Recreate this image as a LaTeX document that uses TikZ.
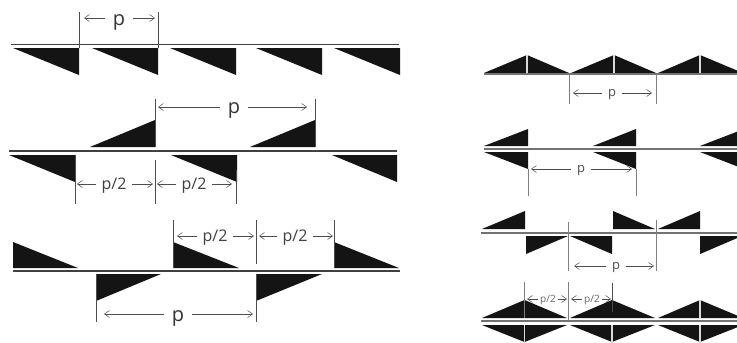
\documentclass[tikz,border=0pt]{standalone}
\usepackage{fontspec}
\setmainfont{Open Sans}
\usetikzlibrary{arrows.meta}
\begin{document}
\begin{tikzpicture}[
    x=1pt, y=-1pt,
    tooth/.style={fill=black!92},
    bar/.style={draw=black!75, line width=1.9pt},
    barlight/.style={draw=black!55, line width=1.9pt},
    slit/.style={draw=black!15, line width=1.3pt},
    tick/.style={draw=black!70, line width=0.7pt},
    ticklight/.style={draw=black!50, line width=0.9pt},
    dimarrow/.style={draw=black!70, line width=0.5pt, -{Straight Barb[length=5pt,width=7pt]}},
    biglabel/.style={font=\fontsize{20}{20}\selectfont, text=black!80, inner sep=8pt},
    midlabel/.style={font=\fontsize{16}{16}\selectfont, text=black!75, inner sep=5pt},
    rightlabel/.style={font=\fontsize{13}{13}\selectfont, text=black!70, inner sep=6pt},
    tinylabel/.style={font=\fontsize{10}{10}\selectfont, text=black!60, inner sep=2pt},
]
\clip (0,0) rectangle (737,343);
\fill[white] (0,0) rectangle (737,343);

% left column
\foreach \a/\b in {13/79,92/158,170/236,256/322,334/400}
    \fill[tooth] (\a,48) -- (\b,48) -- (\b,75) -- cycle;
\draw[bar] (11,44.5) -- (399,44.5);
\foreach \a in {79,158}
    \draw[tick] (\a,12) -- (\a,48);

\foreach \a/\b in {90/155,250/315}
    \fill[tooth] (\a,147) -- (\b,147) -- (\b,120) -- cycle;
\foreach \a/\b in {9/75,171/237,332/397}
    \fill[tooth] (\a,155) -- (\b,155) -- (\b,182) -- cycle;
\draw[bar] (9,151) -- (397,151);
\foreach \a in {155,315}
    \draw[tick] (\a,99) -- (\a,147);
\draw[tick] (75,155) -- (75,204);
\draw[tick] (155,160) -- (155,204);
\draw[tick] (236,170) -- (236,204);

\foreach \a/\b in {13/78,173/239,334/399}
    \fill[tooth] (\a,242) -- (\a,268) -- (\b,268) -- cycle;
\foreach \a/\b in {96/161,256/322}
    \fill[tooth] (\a,274) -- (\b,274) -- (\a,301) -- cycle;
\draw[bar] (13,271) -- (400,271);
\draw[tick] (173,220) -- (173,268);
\draw[tick] (256,220) -- (256,264);
\draw[tick] (334,220) -- (334,268);
\draw[tick] (96,274) -- (96,322);
\draw[tick] (256,274) -- (256,322);

\node[biglabel] (pa) at (119,22) {p};
\coordinate (pa-l) at (84,18);
\coordinate (pa-r) at (155,18);
\node[biglabel] (pb) at (234,110) {p};
\coordinate (pb-l) at (158,107);
\coordinate (pb-r) at (307,107);
\node[midlabel] (hc) at (114,186) {p/2};
\coordinate (hc-l) at (77,184);
\coordinate (hc-r) at (153,184);
\node[midlabel] (hd) at (194,186) {p/2};
\coordinate (hd-l) at (157,184);
\coordinate (hd-r) at (232,184);
\node[midlabel] (he) at (215,238) {p/2};
\coordinate (he-l) at (177,236);
\coordinate (he-r) at (254,236);
\node[midlabel] (hf) at (295,238) {p/2};
\coordinate (hf-l) at (259,236);
\coordinate (hf-r) at (333,236);
\node[biglabel] (pg) at (178,318) {p};
\coordinate (pg-l) at (104,314);
\coordinate (pg-r) at (253,314);

% right column
\foreach \a/\m/\b in {484/527/569,571/614/656,658/700/743}{
    \fill[tooth] (\a,73) -- (\m,55) -- (\b,73) -- cycle;
    \draw[slit] (\m,55) -- (\m,73);
}
\draw[barlight] (484,74) -- (737,74);
\foreach \a in {569,656}
    \draw[ticklight] (\a,74) -- (\a,104);

\foreach \a/\b in {484/528,593/636,700/744}{
    \fill[tooth] (\a,146) -- (\b,146) -- (\b,129) -- cycle;
    \fill[tooth] (\a,152) -- (\b,152) -- (\b,169) -- cycle;
}
\draw[barlight] (484,149) -- (737,149);
\foreach \a in {528,636}
    \draw[ticklight] (\a,169) -- (\a,196);

\fill[tooth] (482,229) -- (525,229) -- (525,211) -- cycle;
\fill[tooth] (613,229) -- (613,211) -- (655,229) -- cycle;
\fill[tooth] (658,229) -- (700,229) -- (700,211) -- cycle;
\fill[tooth] (526,236) -- (568,236) -- (526,254) -- cycle;
\fill[tooth] (570,236) -- (612,236) -- (612,254) -- cycle;
\fill[tooth] (700,236) -- (742,236) -- (700,254) -- cycle;
\draw[barlight] (481,233) -- (737,233);
\draw[ticklight] (568,222) -- (568,271);
\draw[ticklight] (656,220) -- (656,271);

\foreach \a/\m/\b in {482/524.5/567,570/612/655,658/700/743}{
    \fill[tooth] (\a,318) -- (\m,300) -- (\b,318) -- cycle;
    \fill[tooth] (\a,325) -- (\m,342) -- (\b,325) -- cycle;
    \draw[slit] (\m,325) -- (\m,343);
}
\draw[slit] (700,300) -- (700,318);
\draw[slit] (524.5,310) -- (524.5,318);
\draw[barlight] (481,321) -- (737,321);
\draw[ticklight] (524,282) -- (524,318);
\draw[ticklight] (568,282) -- (568,320);
\draw[tick] (612,283) -- (612,312);

\node[rightlabel] (pr) at (612,95) {p};
\coordinate (pr-l) at (573,93);
\coordinate (pr-r) at (652,93);
\node[rightlabel] (ps) at (581,171) {p};
\coordinate (ps-l) at (531,169);
\coordinate (ps-r) at (632,169);
\node[rightlabel] (pt) at (616,268) {p};
\coordinate (pt-l) at (574,266);
\coordinate (pt-r) at (654,266);
\node[tinylabel] (hu) at (548,300) {p/2};
\coordinate (hu-l) at (527,299);
\coordinate (hu-r) at (567,299);
\node[tinylabel] (hv) at (592,300) {p/2};
\coordinate (hv-l) at (571,299);
\coordinate (hv-r) at (611,299);

% dimension arrows
\foreach \n in {pa,pb,hc,hd,he,hf,pg,pr,ps,pt,hu,hv}{
    \draw[dimarrow] (\n.west |- \n-l) -- (\n-l);
    \draw[dimarrow] (\n.east |- \n-r) -- (\n-r);
}
\end{tikzpicture}
\end{document}
